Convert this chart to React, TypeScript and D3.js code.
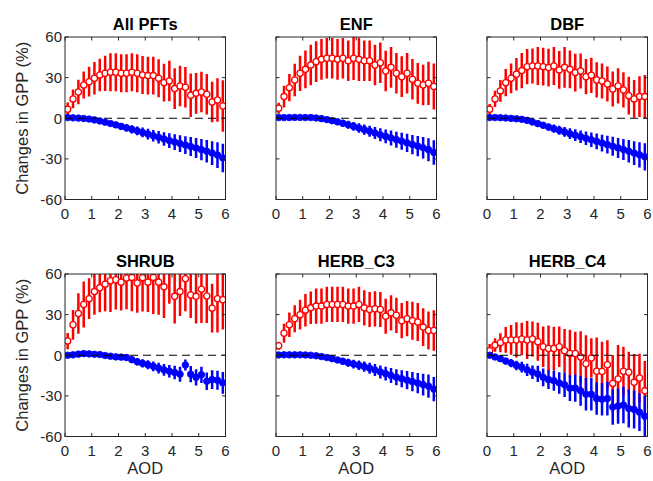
import React from 'react';
import * as d3 from 'd3';

const AOD = [0.1, 0.3, 0.5, 0.7, 0.9, 1.1, 1.3, 1.5, 1.7, 1.9, 2.1, 2.3, 2.5, 2.7, 2.9, 3.1, 3.3, 3.5, 3.7, 3.9, 4.1, 4.3, 4.5, 4.7, 4.9, 5.1, 5.3, 5.5, 5.7, 5.9];
const TITLES = ['All PFTs', 'ENF', 'DBF', 'SHRUB', 'HERB_C3', 'HERB_C4'];
const X_TICKS = [0, 1, 2, 3, 4, 5, 6];
const Y_TICKS = [-60, -30, 0, 30, 60];
const Y_LABEL = 'Changes in GPP (%)';
const X_LABEL = 'AOD';

// All PFTs
const RED_ALL = [6.6, 14.3, 19.4, 24.6, 27, 29.5, 32, 33.2, 34, 34, 33.2, 33.2, 34, 33.2, 32, 31.5, 31.5, 29.5, 26.3, 27.5, 21.9, 23.8, 22.9, 17, 18.4, 19.4, 17.7, 12, 13.5, 9.1];
const RED_ALL_ERR = [5, 7, 9, 10, 11, 12, 12, 13, 14, 14, 14, 14, 14, 14, 14, 14, 14, 14, 14, 15, 15, 15, 15, 16, 15, 15, 15, 15, 16, 19];
const BLUE_ALL = [0.5, 0.3, 0.1, -0.2, -0.6, -1.2, -2.0, -2.9, -3.9, -4.9, -6.0, -7.1, -8.2, -9.3, -10.5, -11.7, -12.9, -14.1, -15.3, -16.5, -17.6, -18.7, -19.8, -20.9, -22.0, -23.2, -24.4, -25.7, -27.2, -29.3];
const BLUE_ALL_ERR = [0.5, 0.5, 0.6, 0.8, 1.0, 1.2, 1.4, 1.6, 1.9, 2.1, 2.4, 2.7, 3.0, 3.3, 3.6, 4.0, 4.3, 4.6, 5.0, 5.4, 5.8, 6.2, 6.6, 7.0, 7.4, 7.8, 8.3, 8.8, 9.5, 10.5];

// ENF
const RED_ENF = [7.4, 16, 22.6, 28.3, 33.2, 36.1, 39.3, 41.8, 43.5, 44.3, 44.3, 43.5, 44.3, 42.5, 44.3, 43.5, 42.5, 42.5, 39.3, 41, 34.9, 37.6, 33.2, 30.7, 33.2, 28.8, 25.8, 24.6, 25.8, 23.4];
const RED_ENF_ERR = [4, 8, 10, 12, 13, 14, 15, 15, 15, 15, 15, 15, 15, 15, 16, 16, 15, 15, 15, 15, 15, 15, 15, 15, 15, 15, 15, 15, 16, 17];
const BLUE_ENF = [0.5, 0.5, 0.5, 0.6, 0.6, 0.5, 0.5, 0.2, -0.3, -1.0, -1.8, -2.7, -3.7, -4.8, -6.0, -7.2, -8.4, -9.6, -10.9, -12.2, -13.4, -14.6, -15.8, -17.0, -18.2, -19.4, -20.6, -21.8, -23.2, -25.3];
const BLUE_ENF_ERR = [0.5, 0.5, 0.6, 0.7, 0.8, 1.0, 1.2, 1.4, 1.6, 1.8, 2.0, 2.3, 2.6, 2.9, 3.2, 3.5, 3.8, 4.1, 4.4, 4.8, 5.1, 5.5, 5.9, 6.3, 6.7, 7.1, 7.5, 8.0, 8.5, 9.0];

// DBF
const RED_DBF = [6.6, 14.3, 20.2, 26.3, 29.5, 32.5, 35.2, 38.1, 38.6, 38.6, 38.1, 37.4, 38.6, 35.7, 37.6, 36.1, 33.7, 34.9, 30.7, 31.7, 28.3, 27.5, 25.3, 21.6, 23.9, 20.9, 16.7, 14.3, 16, 16];
const RED_DBF_ERR = [4, 6, 8, 10, 11, 12, 13, 13, 13, 14, 14, 14, 14, 14, 15, 14, 14, 13, 13, 13, 13, 13, 13, 13, 13, 13, 14, 14, 15, 16];
const BLUE_DBF = [0.5, 0.5, 0.4, 0.2, -0.1, -0.4, -0.8, -1.6, -2.8, -4.0, -5.2, -6.5, -7.7, -8.9, -10.1, -11.4, -12.5, -13.6, -14.8, -15.9, -17.1, -18.3, -19.5, -20.7, -21.9, -23.1, -24.4, -25.7, -27.0, -28.5];
const BLUE_DBF_ERR = [0.5, 0.5, 0.6, 0.8, 1.0, 1.2, 1.4, 1.6, 1.9, 2.1, 2.4, 2.7, 3.0, 3.3, 3.6, 4.0, 4.3, 4.6, 5.0, 5.4, 5.8, 6.2, 6.6, 7.0, 7.4, 7.8, 8.3, 8.8, 9.3, 10.0];

// SHRUB
const RED_SHRUB = [10.5, 22.5, 30.8, 37.5, 41.8, 47, 49.8, 52.5, 55, 55.8, 54, 57, 57.5, 53.3, 57.3, 54, 57.5, 54, 50.5, 63, 43.5, 47, 56.5, 44.5, 43.5, 48.8, 43.8, 34.8, 41.8, 41];
const RED_SHRUB_ERR = [6, 11, 15, 17, 15, 17, 18, 20, 23, 22, 21, 23, 25, 22, 25, 22, 27, 24, 23, 25, 20, 18, 24, 17, 20, 25, 20, 18, 25, 22];
const BLUE_SHRUB = [0, 0.3, 0.8, 1.2, 1.0, 0.7, 0.5, -0.2, -0.7, -1.2, -1.4, -1.7, -3.3, -4.8, -6.0, -7.0, -8.2, -9.5, -10.8, -11.8, -12.7, -14.0, -7.2, -14.0, -16.3, -14.4, -19.2, -18.0, -18.5, -20.4];
const BLUE_SHRUB_ERR = [1, 1, 1, 1, 1, 1, 1.2, 1.4, 1.6, 1.8, 2, 2.2, 2.5, 2.8, 3, 3.3, 3.6, 4, 4.3, 4.6, 5, 5.5, 4, 6, 6, 6, 6.5, 7, 7, 8];

// HERB_C3
const RED_C3 = [7, 16.3, 22.5, 27, 30, 33.3, 35, 36.3, 36.3, 37.5, 37.5, 37.5, 37.5, 36.3, 36.3, 37.5, 35, 33.8, 34.3, 33.8, 28.8, 31.3, 29.5, 25.5, 27, 25.5, 24.5, 20.8, 18.3, 18.3];
const RED_C3_ERR = [3, 7, 9, 10, 11, 12, 12, 13, 13, 13, 13, 13, 13, 13, 13, 13, 13, 13, 13, 13, 13, 13, 13, 13, 13, 14, 14, 14, 14, 15];
const BLUE_C3 = [0.2, 0.3, 0.3, 0.3, 0.3, 0.2, 0, -0.4, -1.0, -1.7, -2.5, -3.5, -4.5, -5.5, -6.5, -7.4, -8.4, -9.6, -10.9, -12.3, -13.6, -14.9, -16.2, -17.3, -18.4, -19.5, -20.6, -21.7, -22.8, -25.0];
const BLUE_C3_ERR = [0.5, 0.5, 0.6, 0.7, 0.8, 1.0, 1.2, 1.4, 1.6, 1.8, 2.0, 2.3, 2.6, 2.9, 3.2, 3.5, 3.8, 4.1, 4.4, 4.8, 5.1, 5.5, 5.9, 6.3, 6.7, 7.1, 7.5, 8.0, 8.5, 9.0];

// HERB_C4
const RED_C4 = [3.3, 7.5, 9.3, 11.3, 11.3, 11.3, 12, 11.3, 12, 10, 6.3, 5, 5, 6.3, 3.3, 1.3, 1.3, -1.3, -6.3, -2, -11.8, -12, -7, -20.8, -17.5, -11.8, -12.5, -20, -16.8, -26.3];
const RED_C4_ERR = [5, 5, 7, 9.5, 11, 13, 12, 14, 13, 14, 15, 17, 16, 15, 16, 17.5, 16, 19, 21, 14.5, 25, 22, 18, 21, 25, 18, 15, 21, 18, 22];
const BLUE_C4 = [0, -1.3, -2.5, -4.3, -5.8, -7.5, -8.8, -10.8, -12.5, -13.8, -16.3, -18, -18.8, -20.5, -21.8, -24.3, -24.3, -26.3, -28.8, -28.8, -32, -32.5, -32, -38.3, -37.5, -36.8, -39.3, -40, -42, -45];
const BLUE_C4_ERR = [1, 1.5, 2, 2.5, 3, 3.5, 4, 4.5, 5, 6, 6.5, 7, 7.5, 8, 9, 9.5, 10, 11, 12, 12, 12, 12, 12.5, 13, 13, 13.5, 14, 14, 14, 15];

const PANELS = [
  { title: TITLES[0], red: RED_ALL, redErr: RED_ALL_ERR, blue: BLUE_ALL, blueErr: BLUE_ALL_ERR },
  { title: TITLES[1], red: RED_ENF, redErr: RED_ENF_ERR, blue: BLUE_ENF, blueErr: BLUE_ENF_ERR },
  { title: TITLES[2], red: RED_DBF, redErr: RED_DBF_ERR, blue: BLUE_DBF, blueErr: BLUE_DBF_ERR },
  { title: TITLES[3], red: RED_SHRUB, redErr: RED_SHRUB_ERR, blue: BLUE_SHRUB, blueErr: BLUE_SHRUB_ERR },
  { title: TITLES[4], red: RED_C3, redErr: RED_C3_ERR, blue: BLUE_C3, blueErr: BLUE_C3_ERR },
  { title: TITLES[5], red: RED_C4, redErr: RED_C4_ERR, blue: BLUE_C4, blueErr: BLUE_C4_ERR },
];

const W = 653;
const H = 481;
const COL_LEFT = [65, 276, 487];
const ROW_TOP = [37, 274];
const PW = 160.5;
const PH = 162.5;
const AXIS_COLOR = '#262626';
const FONT = '"Liberation Sans", Arial, Helvetica, sans-serif';
const RED = '#ff0000';
const BLUE = '#0000ff';

function Panel({ idx, p }: { idx: number; p: typeof PANELS[number] }) {
  const col = idx % 3;
  const row = Math.floor(idx / 3);
  const left = COL_LEFT[col];
  const top = ROW_TOP[row];
  const x = d3.scaleLinear().domain([0, 6]).range([left, left + PW]);
  const y = d3.scaleLinear().domain([-60, 60]).range([top + PH, top]);
  const clipId = `clip-${idx}`;
  const tick = 3.5;

  const series = [
    { vals: p.red, errs: p.redErr, color: RED, open: true },
    { vals: p.blue, errs: p.blueErr, color: BLUE, open: false },
  ];

  return (
    <g>
      <defs>
        <clipPath id={clipId}>
          <rect x={left} y={top} width={PW} height={PH} />
        </clipPath>
      </defs>
      <g clipPath={`url(#${clipId})`}>
        {series.map((s, si) => (
          <g key={si}>
            {s.vals.map((v, i) => (
              <line
                key={'e' + i}
                x1={x(AOD[i])}
                x2={x(AOD[i])}
                y1={y(v - s.errs[i])}
                y2={y(v + s.errs[i])}
                stroke={s.color}
                strokeWidth={2.5}
              />
            ))}
            {s.vals.map((v, i) => (
              <circle
                key={'m' + i}
                cx={x(AOD[i])}
                cy={y(v)}
                r={s.open ? 3.1 : 3.3}
                fill={s.open ? '#ffffff' : s.color}
                stroke={s.color}
                strokeWidth={s.open ? 1.3 : 0.8}
              />
            ))}
          </g>
        ))}
        <line x1={x(0)} x2={x(6)} y1={y(0)} y2={y(0)} stroke="#000" strokeWidth={1.2} strokeDasharray="8,5" />
      </g>
      <rect x={left} y={top} width={PW} height={PH} fill="none" stroke={AXIS_COLOR} strokeWidth={1} />
      {X_TICKS.map((t) => (
        <g key={'xt' + t}>
          <line x1={x(t)} x2={x(t)} y1={top + PH} y2={top + PH - tick} stroke={AXIS_COLOR} />
          <line x1={x(t)} x2={x(t)} y1={top} y2={top + tick} stroke={AXIS_COLOR} />
          <text x={x(t)} y={top + PH + 19} textAnchor="middle" fontSize={15} fill={AXIS_COLOR} fontFamily={FONT}>
            {t}
          </text>
        </g>
      ))}
      {Y_TICKS.map((t) => (
        <g key={'yt' + t}>
          <line x1={left} x2={left + tick} y1={y(t)} y2={y(t)} stroke={AXIS_COLOR} />
          <line x1={left + PW} x2={left + PW - tick} y1={y(t)} y2={y(t)} stroke={AXIS_COLOR} />
          {col === 0 && (
            <text x={left - 3} y={y(t)} dy="0.36em" textAnchor="end" fontSize={15} fill={AXIS_COLOR} fontFamily={FONT}>
              {t}
            </text>
          )}
        </g>
      ))}
      <text x={left + PW / 2} y={top - 7.5} textAnchor="middle" fontSize={16.5} fontWeight="bold" fill="#000" fontFamily={FONT}>
        {p.title}
      </text>
      {row === 1 && (
        <text x={left + PW / 2} y={top + PH + 37} textAnchor="middle" fontSize={16.5} fill={AXIS_COLOR} fontFamily={FONT}>
          {X_LABEL}
        </text>
      )}
      {col === 0 && (
        <text
          transform={`translate(${28},${top + PH / 2}) rotate(-90)`}
          textAnchor="middle"
          fontSize={16.5}
          fill={AXIS_COLOR}
          fontFamily={FONT}
        >
          {Y_LABEL}
        </text>
      )}
    </g>
  );
}

export default function App() {
  return (
    <svg
      width={W}
      height={H}
      viewBox={`0 0 ${W} ${H}`}
      style={{ position: 'absolute', left: 0, top: 0, background: '#fff' }}
    >
      <rect x={0} y={0} width={W} height={H} fill="#fff" />
      {PANELS.map((p, i) => (
        <Panel key={i} idx={i} p={p} />
      ))}
    </svg>
  );
}
